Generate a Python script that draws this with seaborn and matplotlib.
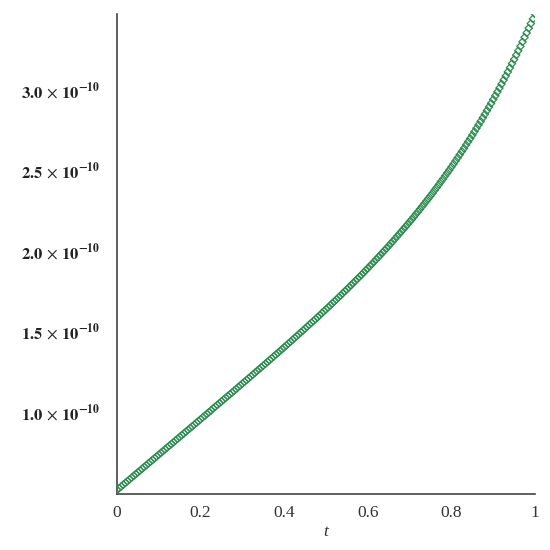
import numpy as np
import pandas as pd
import matplotlib
matplotlib.use("Agg")
import matplotlib.pyplot as plt
import seaborn as sns

# t sampled at 201 points on [0, 1]
t_values = np.linspace(0.0, 1.0, 201)

# values in units of 1e-10
y_scaled = [
    0.512, 0.523, 0.534, 0.545, 0.556, 0.567, 0.578, 0.589, 0.600, 0.611,
    0.622, 0.633, 0.644, 0.655, 0.666, 0.677, 0.688, 0.699, 0.710, 0.721,
    0.732, 0.743, 0.754, 0.765, 0.776, 0.787, 0.798, 0.809, 0.820, 0.831,
    0.842, 0.853, 0.864, 0.875, 0.886, 0.897, 0.908, 0.919, 0.930, 0.941,
    0.952, 0.963, 0.974, 0.985, 0.996, 1.007, 1.019, 1.030, 1.041, 1.052,
    1.063, 1.074, 1.085, 1.096, 1.107, 1.118, 1.129, 1.140, 1.152, 1.163,
    1.174, 1.185, 1.196, 1.207, 1.219, 1.230, 1.241, 1.252, 1.264, 1.275,
    1.286, 1.297, 1.309, 1.320, 1.331, 1.343, 1.354, 1.365, 1.377, 1.388,
    1.400, 1.411, 1.423, 1.434, 1.446, 1.458, 1.469, 1.481, 1.493, 1.504,
    1.516, 1.528, 1.540, 1.552, 1.563, 1.575, 1.587, 1.599, 1.612, 1.624,
    1.636, 1.648, 1.660, 1.673, 1.685, 1.697, 1.710, 1.722, 1.735, 1.748,
    1.760, 1.773, 1.786, 1.799, 1.812, 1.825, 1.838, 1.851, 1.864, 1.878,
    1.891, 1.905, 1.918, 1.932, 1.946, 1.960, 1.973, 1.988, 2.002, 2.016,
    2.030, 2.045, 2.059, 2.074, 2.089, 2.104, 2.119, 2.134, 2.149, 2.164,
    2.180, 2.195, 2.211, 2.227, 2.243, 2.259, 2.276, 2.292, 2.309, 2.325,
    2.342, 2.359, 2.377, 2.394, 2.412, 2.430, 2.447, 2.466, 2.484, 2.502,
    2.521, 2.540, 2.559, 2.578, 2.598, 2.618, 2.637, 2.658, 2.678, 2.698,
    2.719, 2.740, 2.762, 2.783, 2.805, 2.827, 2.849, 2.872, 2.894, 2.917,
    2.941, 2.964, 2.988, 3.012, 3.037, 3.062, 3.087, 3.112, 3.138, 3.164,
    3.190, 3.217, 3.244, 3.271, 3.299, 3.327, 3.355, 3.384, 3.413, 3.442,
    3.472,
]

x_ticks = [0, 0.2, 0.4, 0.6, 0.8, 1.0]
x_tick_labels = ["0", "0.2", "0.4", "0.6", "0.8", "1"]
y_ticks = [1.0e-10, 1.5e-10, 2.0e-10, 2.5e-10, 3.0e-10]
y_tick_labels = [r"$\mathbf{1.0}\,\times\,\mathbf{10^{-10}}$", r"$\mathbf{1.5}\,\times\,\mathbf{10^{-10}}$",
                 r"$\mathbf{2.0}\,\times\,\mathbf{10^{-10}}$", r"$\mathbf{2.5}\,\times\,\mathbf{10^{-10}}$",
                 r"$\mathbf{3.0}\,\times\,\mathbf{10^{-10}}$"]

df = pd.DataFrame({"t": t_values, "y": np.array(y_scaled) * 1e-10})

sns.set_style("white")
plt.rcParams["font.family"] = ["Liberation Serif", "DejaVu Serif"]
plt.rcParams["mathtext.fontset"] = "stix"

fig = plt.figure(figsize=(5.5, 5.5), dpi=100)
ax = fig.add_axes([117 / 550, 56 / 550, 418 / 550, 480 / 550])

sns.scatterplot(data=df, x="t", y="y", ax=ax, marker="D", s=14,
                fc="none", ec="#2e8b50", linewidth=0.9, legend=False, zorder=3)

ax.set_xlim(0, 1.0)
ax.set_ylim(0.487e-10, 3.4726e-10)

ax.set_xticks(x_ticks)
ax.set_xticklabels(x_tick_labels, fontsize=12.5, color="#333333")
ax.set_yticks(y_ticks)
ax.set_yticklabels(y_tick_labels, fontsize=12, color="#222222")
ax.tick_params(axis="x", length=0, pad=8)
ax.tick_params(axis="y", length=0, pad=12)

ax.set_xlabel("t", fontsize=12.5, style="italic", color="#333333", labelpad=2)
ax.set_ylabel("")

for side in ["top", "right"]:
    ax.spines[side].set_visible(False)
for side in ["left", "bottom"]:
    ax.spines[side].set_color("#444444")
    ax.spines[side].set_linewidth(1.2)

fig.savefig("out.png", dpi=100)
